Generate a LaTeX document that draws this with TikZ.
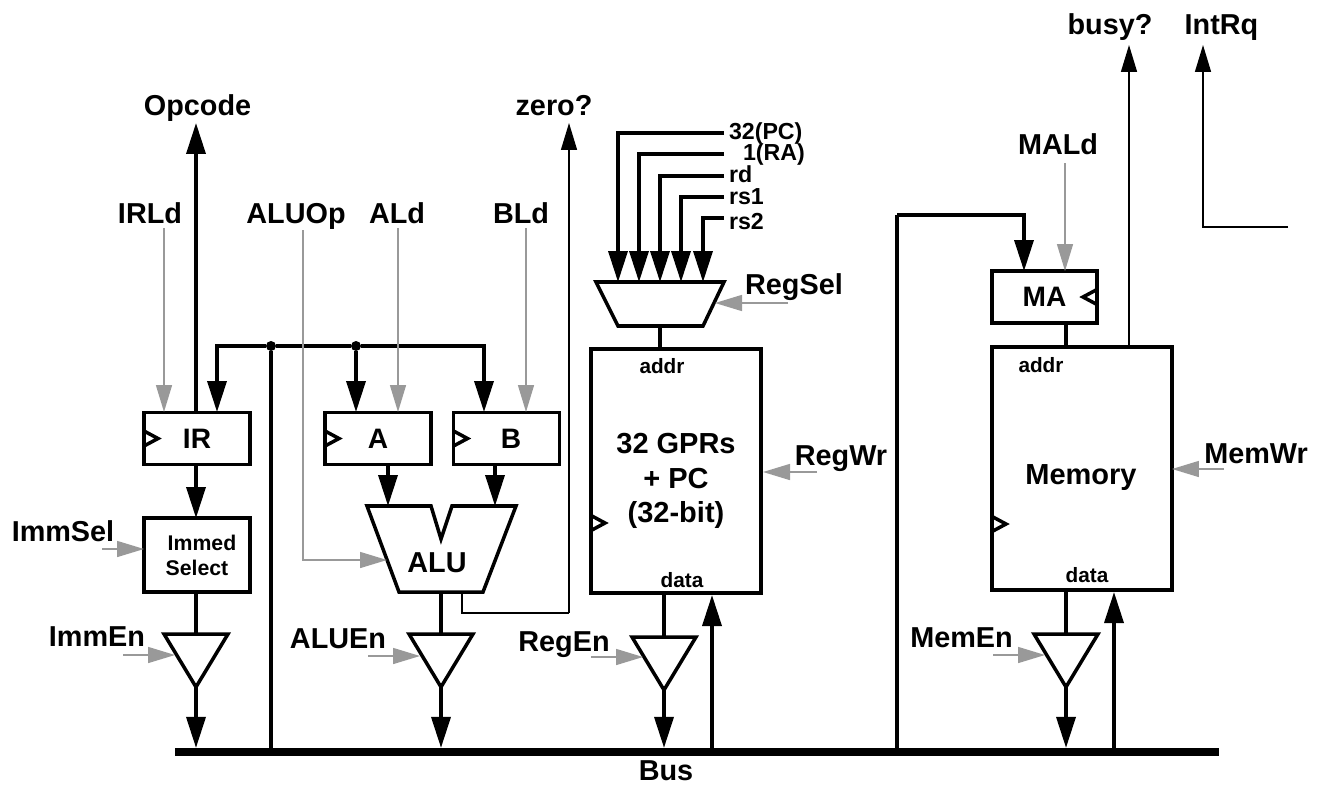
\documentclass[tikz,border=0pt]{standalone}
\usepackage{fontspec}
\setmainfont{Liberation Sans}
\usetikzlibrary{arrows.meta}
\definecolor{ctlgray}{HTML}{999999}
\tikzset{
  lab/.style={inner sep=0pt,outer sep=0pt,font=\fontsize{16.4}{18}\selectfont\bfseries,text height=0.4cm,text depth=0.1cm},
  med/.style={inner sep=0pt,outer sep=0pt,font=\fontsize{13.2}{15}\selectfont\bfseries},
  small/.style={inner sep=0pt,outer sep=0pt,font=\fontsize{11.8}{14}\selectfont\bfseries},
  regbox/.style={draw,line width=2pt,inner sep=0pt,outer sep=0pt,minimum width=2.12cm,minimum height=1.04cm,font=\fontsize{16}{18}\selectfont\bfseries},
  bigbox/.style={regbox,minimum height=4.86cm},
  bigtxt/.style={inner sep=0pt,outer sep=0pt,align=center,font=\fontsize{16.5}{19.6}\selectfont\bfseries},
  part/.style={draw,line width=2pt,line join=miter},
  wire/.style={draw,line width=2pt},
  sig/.style={wire,-{Triangle[length=0.62cm,width=0.38cm]}},
  ctl/.style={draw=ctlgray,line width=0.85pt,-{Triangle[length=0.54cm,width=0.32cm,fill=ctlgray]}},
  flag/.style={draw,line width=0.85pt},
  flagar/.style={flag,-{Triangle[length=0.54cm,width=0.32cm]}},
  dot/.style={circle,fill,inner sep=0pt,minimum size=0.2cm}
}
\begin{document}
\begin{tikzpicture}[x=0.02cm,y=-0.02cm]
\useasboundingbox (0,0) rectangle (1324,784);
% bus
\node[fill=black,inner sep=0pt,minimum width=20.88cm,minimum height=0.15cm] (bus) at (697,752) {};
\node[lab,text depth=0pt] (buslab) at (666,770) {Bus};
% registers
\node[regbox] (regir) at (197,438.5) {IR};
\node[regbox] (rega) at (378,438.5) {A};
\node[regbox] (regb) at (506.5,438.5) {\hspace{0.18cm}B};
\node[regbox,minimum width=2.1cm] (regma) at (1044.5,297) {MA};
\node[regbox,minimum height=1.48cm,align=center,font=\fontsize{12.1}{14.2}\selectfont\bfseries] (immsel) at (197,555) {\hspace{0.2cm}Immed\\Select};
\node[bigbox,minimum width=3.4cm,minimum height=4.88cm] (gprs) at (676,471) {};
\node[bigbox,minimum width=3.6cm] (memory) at (1082,468.5) {};
\node[bigtxt] (gprstxt) at (676,481) {32 GPRs\\+ PC\\(32-bit)};
\node[bigtxt] (memtxt) at (1081,478) {Memory};
\node[small] (gaddr) at (662,366) {addr};
\node[small] (gdata) at (682,580) {data};
\node[small] (maddr) at (1041,365) {addr};
\node[small] (mdata) at (1087,575) {data};
% clock marks
\foreach \reg in {regir,rega,regb}
  \draw[part] (\reg.west) ++(0,-7.5) -- ++(14,7.5) -- ++(-14,7.5);
\draw[part] (gprs.west) ++(0,44.5) -- ++(14,7.5) -- ++(-14,7.5);
\draw[part] (memory.west) ++(0,48) -- ++(14,7.5) -- ++(-14,7.5);
\draw[part] (regma.east) ++(0,-7.5) -- ++(-14,7.5) -- ++(14,7.5);
% alu
\coordinate (alua) at (388,506);
\coordinate (alub) at (495,506);
\coordinate (aluop) at (387,560);
\coordinate (aluout) at (441,592);
\coordinate (zeroout) at (462,592);
\draw[part] (367,506) -- (431,506) -- (441,539) -- (452,506) -- (516,506) -- (483,592) -- (399,592) -- cycle;
\node[lab] (alulab) at (437,564.5) {ALU};
% reg mux
\coordinate (muxout) at (660,326);
\coordinate (muxsel) at (715,303);
\draw[part] (596,282) -- (724,282) -- (703,326) -- (618,326) -- cycle;
% tristate drivers
\foreach \tname/\tx/\ty in {imm/196/634,alu/441/634,reg/664/637,mem/1066/634} {
  \coordinate (\tname top) at (\tx,\ty);
  \coordinate (\tname tip) at (\tx,\ty+53);
  \draw[part] (\tx-32,\ty) -- (\tx+32,\ty) -- (\tname tip) -- cycle;
}
% text labels
\node[lab] (opcode) at (197.5,108.5) {Opcode};
\node[lab] (zerolab) at (554,108.5) {zero?};
\node[lab] (busylab) at (1110,27.5) {busy?};
\node[lab] (intrq) at (1221.5,27.5) {IntRq};
\node[lab] (irld) at (150,215.5) {IRLd};
\node[lab] (aluoplab) at (296,215.5) {ALUOp};
\node[lab] (ald) at (397,215.5) {ALd};
\node[lab] (bld) at (521,215.5) {BLd};
\node[lab] (mald) at (1058,147.5) {MALd};
\node[lab] (immsl) at (63,533.5) {ImmSel};
\node[lab] (immen) at (97,638.5) {ImmEn};
\node[lab] (aluen) at (338,640.5) {ALUEn};
\node[lab] (regen) at (564,643.5) {RegEn};
\node[lab] (memen) at (961.5,639.5) {MemEn};
\node[lab] (regsel) at (794,286.5) {RegSel};
\node[lab] (regwr) at (841,457.5) {RegWr};
\node[lab] (memwr) at (1256,455.5) {MemWr};
% internal bus
\node[dot] (j1) at (271,346) {};
\node[dot] (j2) at (356,346) {};
\draw[wire] (j1) -- (j2);
\draw[wire] (j1) -- (j1 |- bus.north);
\coordinate (irin) at (217,412);
\coordinate (ain) at (356,412);
\coordinate (bin) at (484,412);
\draw[sig] (j1) -| (irin);
\draw[sig] (j2) -- (ain);
\draw[sig] (j2) -| (bin);
% datapath
\coordinate (irout) at (196,412);
\coordinate (optip) at (196,123);
\draw[sig] (irout) -- (optip);
\draw[sig] (regir.south -| irout) -- (immsel.north -| irout);
\draw[wire] (immsel.south -| irout) -- (immtop);
\draw[sig] (immtip) -- (immtip |- bus.north);
\draw[sig] (alua |- rega.south) -- (alua);
\draw[sig] (alub |- regb.south) -- (alub);
\draw[wire] (aluout) -- (alutop);
\draw[sig] (alutip) -- (alutip |- bus.north);
% register file and memory
\foreach \mx/\my/\mname in {618/133/m1,639/154/m2,660/176/m3,681/197/m4,703/218/m5} {
  \coordinate (\mname) at (724,\my);
  \draw[sig] (\mname) -| (\mx,282);
}
\node[med,anchor=west] (sel1) at (729,134) {32(PC)};
\node[med,anchor=west] (sel2) at (743,155) {1(RA)};
\node[med,anchor=west] (sel3) at (729,174) {rd};
\node[med,anchor=west] (sel4) at (729,197) {rs1};
\node[med,anchor=west] (sel5) at (729,221.5) {rs2};
\draw[wire] (muxout) -- (gprs.north -| muxout);
\draw[wire] (gprs.south -| regtop) -- (regtop);
\draw[sig] (regtip) -- (regtip |- bus.north);
\coordinate (gin) at (712,595);
\draw[sig] (gin |- bus.north) -- (gin);
\coordinate (main) at (1024,271);
\coordinate (fb) at (897,215);
\draw[wire] (fb |- bus.north) -- (fb);
\draw[sig] (fb) -| (main);
\draw[wire] (regma.south -| memtop) -- (memory.north -| memtop);
\draw[wire] (memory.south -| memtop) -- (memtop);
\draw[sig] (memtip) -- (memtip |- bus.north);
\coordinate (min) at (1114,592);
\draw[sig] (min |- bus.north) -- (min);
% control signals
\coordinate (irctl) at (164,412);
\coordinate (opctl) at (303,230);
\coordinate (actl) at (398,412);
\coordinate (bctl) at (526,412);
\coordinate (mactl) at (1065,271);
\coordinate (maldend) at (1065,163);
\draw[ctl] (irld.south -| irctl) -- (irctl);
\draw[ctl] (ald.south -| actl) -- (actl);
\draw[ctl] (bld.south -| bctl) -- (bctl);
\draw[ctl] (maldend) -- (mactl);
\draw[ctl] (opctl) |- (aluop);
\coordinate (immend) at (102,549);
\draw[ctl] (immend) -- (immsel.west |- immend);
\coordinate (imme) at (123,655);
\draw[ctl] (imme) -- (175,655);
\coordinate (alue) at (368,656);
\draw[ctl] (alue) -- (420,656);
\coordinate (rege) at (591,657);
\draw[ctl] (rege) -- (643,657);
\coordinate (meme) at (993,655);
\draw[ctl] (meme) -- (1045,655);
\coordinate (regs) at (788,303);
\draw[ctl] (regs) -- (muxsel);
\coordinate (regw) at (817,472);
\draw[ctl] (regw) -- (763,472);
\coordinate (memw) at (1224,469);
\draw[ctl] (memw) -- (memory.east |- memw);
% status lines
\coordinate (zerotip) at (569,123);
\coordinate (zerobend) at (569,613);
\draw[flag] (zeroout) |- (zerobend);
\draw[flagar] (zerobend) -- (zerotip);
\coordinate (busytip) at (1129,45);
\draw[flagar] (memory.north -| busytip) -- (busytip);
\coordinate (inttip) at (1203,45);
\coordinate (intend) at (1288,227);
\draw[flagar] (intend) -| (inttip);
\end{tikzpicture}
\end{document}
